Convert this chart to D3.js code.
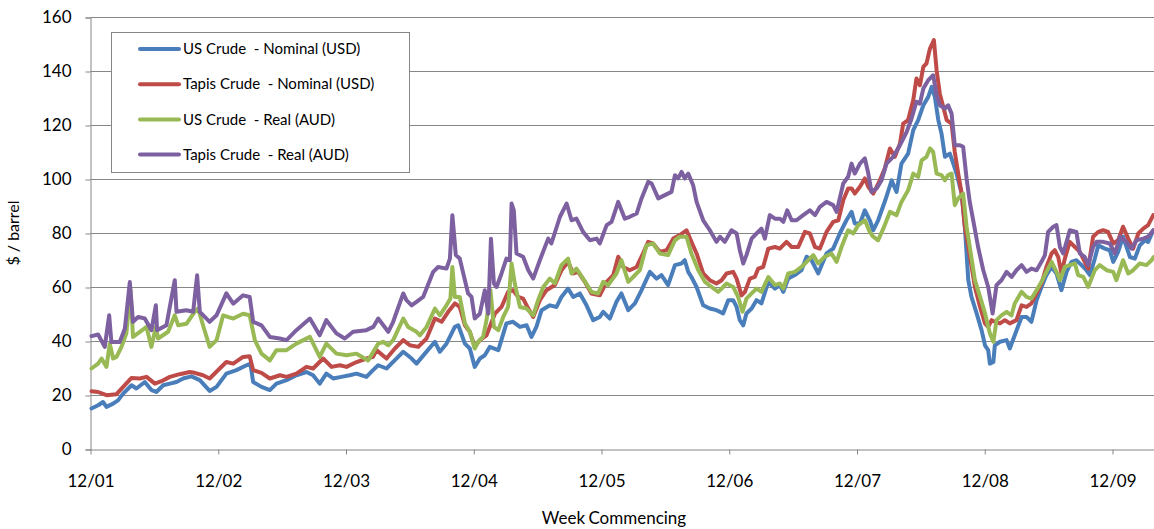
<!DOCTYPE html>
<html>
<head>
<meta charset="utf-8">
<script src="https://cdn.jsdelivr.net/npm/d3@7"></script>
<style>
  html, body { margin: 0; padding: 0; background: #fff; }
  svg { display: block; }
  text { font-family: Lato, "Open Sans", sans-serif; fill: #000; }
</style>
</head>
<body>
<svg id="chart" width="1154" height="529"></svg>
<script>
// Weekly crude oil prices, week index counted from the first week of Dec 2001.
// Each entry: [week, price]

const usNominal = [
  [0.4,15.2],[3.1,16.4],[5.1,17.6],[6.5,15.8],[9.2,17.0],[11.2,18.2],[13.3,20.7],[16.7,23.8],[18.7,22.6],
  [22.1,25.0],[24.8,22.0],[26.8,21.3],[29.6,23.8],[32.3,24.4],[35.0,25.0],[37.7,26.3],[41.1,27.1],[44.5,25.7],
  [48.5,21.7],[51.3,23.2],[55.3,28.1],[59.4,29.4],[63.5,31.2],[65.1,31.8],[66.2,25.0],[69.6,23.2],[73.0,22.0],
  [75.7,24.4],[79.8,25.7],[83.8,27.5],[87.9,28.7],[90.6,27.5],[93.3,24.4],[96.0,28.1],[98.8,26.3],[102.1,26.9],
  [105.5,27.5],[108.3,28.1],[112.3,26.9],[115.0,29.4],[117.1,31.2],[120.5,30.0],[123.9,33.1],[127.3,36.2],
  [130.7,33.7],[132.7,31.8],[136.1,35.5],[140.2,39.9],[142.2,36.2],[144.9,39.2],[148.3,45.4],[149.7,46.0],
  [152.4,39.2],[154.4,37.4],[156.4,30.6],[158.5,33.7],[160.5,34.9],[162.5,38.0],[166.0,36.8],[169.3,46.7],
  [172.0,47.3],[174.8,45.4],[177.5,46.0],[179.5,41.7],[181.5,45.4],[183.6,51.6],[187.0,53.4],[189.7,52.8],
  [191.7,56.5],[194.4,59.6],[196.5,56.5],[199.2,57.8],[201.9,53.4],[204.6,47.9],[207.3,49.1],[208.7,51.0],
  [211.4,48.5],[214.1,54.7],[216.1,57.8],[218.9,51.6],[221.6,54.1],[224.3,59.0],[227.7,65.8],[230.4,63.3],
  [232.4,64.6],[235.1,60.9],[237.9,68.3],[240.6,68.9],[241.9,70.1],[243.3,65.8],[244.6,63.9],[246.7,60.2],
  [249.4,53.4],[252.1,52.2],[254.8,51.6],[257.5,50.4],[259.6,55.3],[261.6,55.3],[263.0,52.8],[264.3,47.9],
  [265.7,46.0],[267.0,50.4],[269.1,52.2],[271.1,55.3],[273.1,54.1],[275.9,62.1],[278.6,59.6],[280.6,60.9],
  [282.0,58.4],[284.0,63.3],[286.7,64.6],[289.4,66.4],[291.5,71.4],[293.5,70.1],[296.2,65.2],[299.6,72.6],
  [302.3,74.4],[305.0,80.0],[307.7,84.9],[309.8,88.0],[311.1,83.7],[313.2,83.7],[315.2,88.6],[317.2,84.9],
  [318.6,81.2],[320.6,84.9],[323.5,92.3],[326.1,99.7],[328.1,95.4],[330.1,105.9],[332.8,109.6],[334.9,118.3],
  [336.9,122.0],[339.0,127.5],[341.0,130.6],[342.4,134.3],[343.7,130.6],[345.1,122.0],[346.4,117.0],
  [347.8,108.4],[349.8,109.6],[351.2,105.9],[352.5,102.2],[354.6,94.8],[355.9,82.5],[357.3,62.7],[358.6,56.5],
  [360.7,50.4],[362.7,44.2],[364.1,38.6],[365.4,36.8],[366.1,31.8],[367.5,32.4],[368.1,38.6],[370.2,39.9],
  [372.9,40.5],[374.2,37.4],[376.2,42.3],[379.0,49.1],[381.0,49.1],[383.0,47.3],[385.1,55.3],[387.1,60.2],
  [389.1,64.6],[391.2,67.6],[393.2,65.2],[395.2,59.0],[397.3,65.8],[399.3,69.5],[401.3,70.1],[403.4,68.3],
  [405.4,66.4],[406.8,64.6],[408.8,70.7],[410.2,75.6],[412.9,74.4],[414.9,73.8],[416.3,69.5],[418.3,73.2],
  [420.3,78.8],[423.1,71.3],[425.1,70.7],[427.1,75.6],[429.2,77.5],[430.5,76.9],[432.6,81.2]
];

const tapisNominal = [
  [0.4,21.6],[3.1,21.3],[6.5,20.1],[10.6,20.5],[13.3,23.2],[16.7,26.5],[20.1,26.3],[22.8,26.9],[26.2,24.4],
  [28.9,25.3],[32.3,26.9],[36.3,27.9],[40.4,28.7],[42.4,28.4],[45.8,27.5],[48.5,26.3],[52.6,30.0],[55.3,32.4],
  [58.1,31.8],[62.1,34.3],[64.8,34.5],[66.2,29.4],[69.6,28.4],[73.0,26.3],[77.1,27.5],[79.8,26.9],[83.8,28.1],
  [87.9,30.6],[90.6,30.0],[94.7,33.7],[98.1,30.6],[101.5,31.2],[104.2,30.6],[108.3,32.4],[112.3,33.7],
  [115.0,34.3],[116.4,36.8],[120.5,33.7],[123.9,37.4],[127.3,40.5],[130.0,38.6],[133.4,38.0],[136.8,41.1],
  [140.2,48.5],[142.9,47.3],[145.6,51.0],[148.3,54.1],[150.3,52.8],[152.4,46.0],[154.4,43.6],[156.4,38.0],
  [158.5,40.5],[161.2,42.3],[164.6,50.3],[167.3,52.8],[170.0,58.4],[172.0,59.0],[174.1,56.5],[176.1,55.9],
  [178.2,52.2],[180.2,49.1],[182.9,55.3],[185.6,59.0],[189.0,60.9],[191.7,66.4],[194.4,69.5],[196.5,65.2],
  [198.5,65.8],[201.2,62.1],[203.9,57.8],[207.3,57.1],[210.1,62.1],[212.8,64.6],[214.8,71.4],[216.8,67.6],
  [219.5,66.4],[222.3,67.6],[224.3,71.4],[227.0,76.9],[229.0,76.3],[231.7,73.2],[234.5,73.8],[237.2,78.1],
  [239.9,79.4],[242.6,81.2],[244.6,76.9],[246.7,72.6],[249.4,65.2],[252.1,62.7],[254.8,61.5],[256.9,62.7],
  [258.9,65.2],[261.6,65.8],[263.0,63.3],[265.0,57.1],[266.4,58.4],[268.4,63.3],[270.4,63.9],[271.8,67.0],
  [273.8,67.6],[275.9,74.4],[278.6,75.0],[280.6,74.4],[283.3,76.9],[285.4,75.0],[288.1,75.0],[290.8,80.6],
  [292.8,80.0],[294.9,75.0],[296.9,74.4],[299.6,80.6],[302.3,84.3],[304.4,84.9],[306.4,92.3],[308.4,96.7],
  [309.8,96.7],[311.1,94.8],[313.2,97.3],[315.2,100.4],[316.6,97.3],[318.6,94.8],[321.3,99.7],[323.3,104.1],
  [325.4,111.5],[327.4,108.4],[329.5,113.3],[330.8,120.7],[332.8,122.0],[334.9,129.4],[336.2,137.4],
  [337.6,134.9],[339.0,141.7],[340.3,143.0],[341.7,148.5],[343.3,151.6],[344.4,140.5],[345.7,131.8],
  [347.1,126.9],[348.5,122.0],[350.5,120.7],[351.8,110.2],[353.2,102.2],[354.6,94.8],[355.9,82.5],[358.0,71.3],
  [360.0,60.2],[362.1,52.8],[364.1,46.7],[365.4,45.4],[366.8,47.9],[368.1,47.3],[370.2,46.7],[372.2,47.9],
  [374.2,46.7],[376.9,47.9],[379.0,53.4],[381.0,52.8],[383.0,54.1],[385.1,57.8],[387.1,61.5],[389.1,67.6],
  [391.2,72.6],[392.5,73.8],[393.9,71.3],[395.2,65.2],[396.6,70.7],[398.6,76.9],[400.7,75.0],[402.7,73.2],
  [404.7,69.5],[406.1,67.0],[408.1,78.8],[410.2,80.6],[412.2,81.2],[414.2,80.6],[416.3,76.3],[418.3,77.5],
  [420.3,82.5],[422.4,78.1],[424.4,74.4],[426.5,80.0],[428.5,81.8],[430.5,83.1],[432.6,86.8]
];

const usReal = [
  [0.4,30.0],[3.1,31.8],[4.5,33.7],[6.5,30.6],[7.85,39.2],[9.2,33.7],[10.6,34.3],[12.6,38.0],[14.6,43.0],
  [16.3,59.0],[17.3,41.7],[20.1,43.6],[22.8,45.4],[24.8,38.0],[26.6,45.4],[27.5,41.1],[31.6,43.6],[34.3,49.7],
  [35.7,46.0],[39.1,46.6],[42.4,51.0],[43.8,52.2],[45.8,46.0],[48.5,38.0],[51.3,40.5],[54.0,49.7],[58.1,48.5],
  [62.1,50.3],[64.8,49.7],[66.9,40.5],[69.6,35.5],[73.0,33.0],[75.7,36.8],[79.8,36.8],[83.8,39.2],[89.3,41.7],
  [93.3,34.3],[96.0,39.2],[100.1,35.5],[104.2,34.9],[108.3,35.5],[113.0,33.0],[117.1,39.2],[119.1,39.9],
  [121.2,38.6],[123.2,40.5],[127.3,48.5],[129.3,45.4],[132.7,43.6],[134.1,42.3],[136.8,45.4],[140.2,52.2],
  [142.2,49.7],[144.9,53.4],[146.5,55.9],[147.3,67.6],[148.3,56.5],[150.3,56.5],[152.4,46.7],[154.4,43.6],
  [156.4,37.4],[157.8,39.9],[159.8,41.7],[161.2,47.9],[162.8,59.0],[164.2,45.4],[166.0,44.2],[168.0,49.1],
  [170.0,52.8],[171.4,68.9],[172.7,61.5],[174.8,52.8],[177.5,52.2],[180.2,49.7],[182.2,55.3],[184.3,60.2],
  [187.0,63.3],[189.0,61.5],[191.7,68.3],[194.4,70.7],[195.8,65.2],[197.8,67.0],[200.5,63.3],[203.9,58.4],
  [206.6,57.8],[208.7,62.1],[210.7,60.9],[214.1,65.2],[216.1,70.1],[218.9,62.1],[220.9,63.9],[223.6,66.4],
  [226.3,75.6],[229.0,76.3],[231.7,72.6],[235.1,72.0],[237.9,77.5],[239.9,78.8],[242.6,78.8],[244.6,72.6],
  [247.4,66.4],[250.1,62.1],[252.8,60.2],[255.5,58.4],[256.9,59.6],[258.9,61.5],[261.6,60.2],[263.6,56.5],
  [265.4,51.0],[267.0,55.9],[269.1,57.8],[271.1,59.6],[273.1,58.4],[275.9,63.9],[278.6,60.9],[280.6,61.5],
  [282.0,59.6],[284.0,65.2],[286.7,65.8],[289.4,67.6],[291.5,69.5],[294.2,72.0],[296.2,68.9],[298.9,71.4],
  [301.6,72.6],[303.7,69.5],[305.7,75.0],[308.4,81.2],[310.5,80.0],[312.5,83.1],[315.2,84.9],[317.2,80.6],
  [318.6,78.8],[320.6,77.5],[322.7,81.8],[325.4,88.0],[328.1,86.8],[330.1,91.7],[332.8,96.0],[334.9,102.2],
  [336.9,101.0],[338.3,107.1],[340.3,108.4],[341.7,111.5],[343.0,110.2],[344.4,102.2],[346.4,101.6],
  [347.8,99.7],[349.1,101.6],[350.5,102.2],[351.8,90.5],[353.2,93.0],[355.2,94.8],[356.6,82.5],[357.9,75.0],
  [360.0,62.7],[362.1,56.5],[364.1,50.4],[366.1,43.0],[367.5,39.9],[368.8,47.9],[370.8,49.7],[372.9,51.0],
  [374.9,49.7],[376.2,54.1],[379.0,58.4],[381.0,56.5],[383.0,55.9],[385.1,59.0],[387.1,62.1],[389.1,65.8],
  [391.2,69.5],[393.2,65.8],[394.6,62.7],[396.6,67.6],[398.6,68.3],[400.7,68.9],[402.0,64.6],[404.1,63.9],
  [406.1,60.2],[408.8,66.4],[410.8,68.3],[413.6,66.4],[416.3,65.8],[417.6,62.7],[420.3,70.1],[422.4,65.2],
  [424.4,66.4],[427.1,68.9],[429.8,68.3],[431.9,70.1],[432.8,71.3]
];

const tapisReal = [
  [0.4,42.0],[3.1,42.6],[5.8,38.0],[7.6,49.7],[8.5,39.8],[11.9,39.8],[14.0,44.8],[16.0,62.0],[17.3,47.3],
  [19.4,49.1],[22.1,48.5],[24.8,44.2],[26.6,53.4],[27.1,44.2],[30.9,46.0],[34.3,62.7],[35.0,51.0],[39.0,51.6],
  [41.8,51.0],[43.4,64.5],[44.5,51.0],[48.5,47.3],[51.3,49.7],[55.3,57.8],[58.1,54.0],[62.1,57.1],[64.8,56.5],
  [66.2,47.3],[69.6,46.0],[73.0,41.7],[77.0,41.1],[79.8,40.5],[83.8,44.2],[89.3,48.5],[93.3,42.3],[96.0,47.9],
  [100.1,43.0],[103.5,41.1],[106.9,43.6],[112.3,44.2],[115.1,45.4],[117.1,48.5],[121.2,43.6],[123.2,47.3],
  [127.3,57.8],[128.6,55.3],[130.7,53.4],[132.7,54.7],[135.4,56.5],[139.5,65.8],[141.5,67.6],[144.9,67.0],
  [146.3,70.7],[147.3,86.8],[148.7,72.0],[150.3,70.7],[152.4,62.7],[153.7,57.8],[155.1,56.5],[156.4,48.5],
  [158.5,50.3],[160.5,59.0],[161.9,50.3],[163.0,78.1],[164.2,61.5],[165.3,60.2],[167.3,65.2],[169.3,70.7],
  [170.7,70.1],[171.4,91.1],[172.3,88.6],[173.4,72.6],[176.1,71.4],[178.2,66.4],[180.2,63.3],[182.9,70.1],
  [186.3,78.1],[187.6,76.3],[191.1,86.2],[193.8,91.1],[195.8,84.9],[197.8,85.5],[200.5,80.6],[203.3,77.5],
  [206.0,78.1],[207.3,76.3],[210.1,83.1],[212.1,84.3],[214.8,91.7],[217.5,85.5],[219.5,86.2],[222.3,87.4],
  [224.3,93.0],[227.0,99.1],[228.4,98.5],[231.1,93.0],[233.8,94.2],[236.5,95.4],[237.9,101.6],[239.2,100.4],
  [240.6,102.8],[241.9,100.4],[243.3,102.2],[245.3,97.9],[246.7,91.7],[249.4,84.9],[252.1,81.2],[254.8,76.9],
  [256.2,78.8],[258.2,76.9],[260.9,81.2],[263.0,80.0],[264.3,73.8],[265.7,68.9],[267.0,72.0],[269.1,78.1],
  [271.1,80.0],[273.1,81.8],[274.5,78.1],[276.5,86.8],[278.6,85.5],[280.6,85.5],[282.0,84.3],[283.6,88.6],
  [285.4,84.9],[287.4,84.9],[290.1,86.8],[292.8,88.6],[294.9,86.8],[296.9,89.9],[299.6,91.7],[302.3,90.5],
  [303.7,88.0],[306.4,98.5],[308.4,101.0],[309.8,105.9],[311.1,102.2],[313.2,105.9],[315.2,107.8],
  [316.6,102.2],[317.9,95.4],[320.0,96.7],[322.0,99.7],[324.0,105.9],[326.7,108.4],[329.5,112.7],
  [332.2,117.6],[334.2,122.6],[336.2,128.8],[337.6,128.1],[339.0,133.7],[341.0,136.8],[343.0,138.6],
  [344.4,131.2],[345.7,127.5],[347.8,126.3],[349.1,127.5],[350.5,124.4],[351.8,112.7],[353.9,112.7],
  [355.2,112.1],[356.6,100.4],[357.9,91.7],[359.3,84.9],[361.3,75.0],[363.4,66.4],[365.4,60.2],[367.2,50.4],
  [368.8,60.9],[370.8,62.7],[372.9,65.8],[374.9,63.9],[376.9,66.4],[379.0,68.3],[381.0,65.8],[383.0,67.0],
  [385.1,66.4],[387.1,69.5],[388.5,72.0],[389.8,80.6],[391.9,82.5],[393.2,83.1],[394.6,75.0],[395.9,72.6],
  [397.3,76.9],[398.6,81.2],[401.3,80.6],[402.7,72.6],[404.7,71.3],[406.1,68.3],[408.1,75.0],[409.5,76.9],
  [412.2,76.9],[414.9,76.3],[417.0,72.6],[419.0,78.8],[421.7,76.9],[423.7,74.4],[425.8,77.5],[428.5,78.1],
  [430.5,78.8],[432.6,81.2]
];

const seriesNames = [
  "US Crude  - Nominal (USD)",
  "Tapis Crude  - Nominal (USD)",
  "US Crude  - Real (AUD)",
  "Tapis Crude  - Real (AUD)"
];
const seriesColors = ["#4A7EBB", "#BE4B48", "#98B954", "#7D60A0"];
const yTicks = [0, 20, 40, 60, 80, 100, 120, 140, 160];
const xTickWeeks = [0, 52, 104, 156, 208, 260, 312, 364, 416];
const xTickLabels = ["12/01", "12/02", "12/03", "12/04", "12/05", "12/06", "12/07", "12/08", "12/09"];

const series = [usNominal, tapisNominal, usReal, tapisReal];

const svg = d3.select("#chart");
const plotLeft = 90.5, plotRight = 1154, plotTop = 17.5, plotBottom = 449.5;
const weekPx = 127.75 / 52;

const x = d3.scaleLinear().domain([0, 433]).range([plotLeft, plotLeft + 433 * weekPx]);
const y = d3.scaleLinear().domain([0, 160]).range([plotBottom, plotTop]);

const axisColor = "#868686";

// horizontal gridlines
svg.append("g")
  .selectAll("line")
  .data(yTicks.filter(d => d > 0))
  .join("line")
  .attr("x1", plotLeft).attr("x2", plotRight)
  .attr("y1", d => y(d)).attr("y2", d => y(d))
  .attr("stroke", axisColor).attr("stroke-width", 1);

// y axis
const yAxis = d3.axisLeft(y).tickValues(yTicks).tickSize(5).tickPadding(14);
const gy = svg.append("g").attr("transform", `translate(${plotLeft},0)`).call(yAxis);
gy.select(".domain").attr("stroke", axisColor);
gy.selectAll(".tick line").attr("stroke", axisColor);
gy.selectAll(".tick text").style("font-size", "17px").style("font-family", "Lato, sans-serif").attr("fill", "#000");

// x axis
const xAxis = d3.axisBottom(x).tickValues(xTickWeeks)
  .tickFormat((d, i) => xTickLabels[i]).tickSize(5).tickPadding(20).tickSizeOuter(0);
const gx = svg.append("g").attr("transform", `translate(0,${plotBottom})`).call(xAxis);
gx.select(".domain").attr("stroke", axisColor).attr("d", `M${plotLeft},0.5H${plotRight}`);
gx.selectAll(".tick line").attr("stroke", axisColor);
gx.selectAll(".tick text").style("font-size", "17px").style("font-family", "Lato, sans-serif").attr("fill", "#000");

// series lines
const line = d3.line().x(d => x(d[0])).y(d => y(d[1]));
svg.append("g")
  .selectAll("path")
  .data(series)
  .join("path")
  .attr("d", line)
  .attr("fill", "none")
  .attr("stroke", (d, i) => seriesColors[i])
  .attr("stroke-width", 4)
  .attr("stroke-linejoin", "round")
  .attr("stroke-linecap", "round");

// legend
const legend = svg.append("g");
legend.append("rect")
  .attr("x", 111.5).attr("y", 32.5).attr("width", 298).attr("height", 140)
  .attr("fill", "#fff").attr("stroke", axisColor);
const rows = legend.selectAll("g.row").data(seriesNames).join("g")
  .attr("class", "row")
  .attr("transform", (d, i) => `translate(0,${49 + i * 35.2})`);
rows.append("line")
  .attr("x1", 140).attr("x2", 179)
  .attr("stroke", (d, i) => seriesColors[i]).attr("stroke-width", 4)
  .attr("stroke-linecap", "round");
rows.append("text")
  .attr("x", 183).attr("dy", "0.35em")
  .style("font-size", "15px").style("white-space", "pre")
  .text(d => d);

// axis titles
svg.append("text")
  .attr("x", 614).attr("y", 524)
  .attr("text-anchor", "middle")
  .style("font-size", "17px")
  .style("word-spacing", "-1px")
  .text("Week Commencing");

svg.append("text")
  .attr("transform", "translate(19,233) rotate(-90)")
  .attr("text-anchor", "middle")
  .style("font-size", "16px")
  .style("white-space", "pre")
  .text("$ / barrel");
</script>
</body>
</html>
